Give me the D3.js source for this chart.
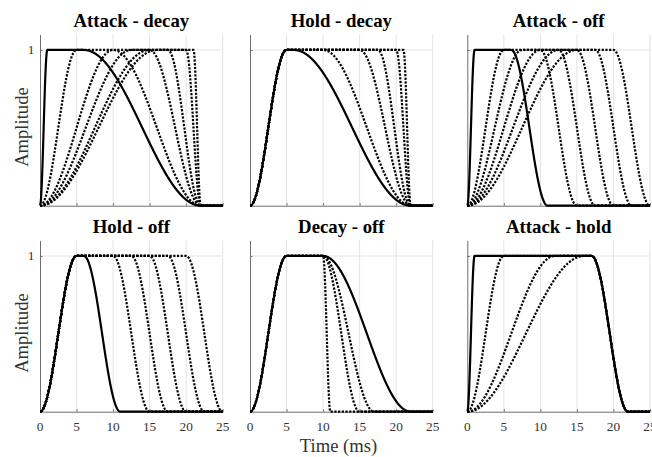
<!DOCTYPE html>
<html>
<head>
<meta charset="utf-8">
<script src="https://cdn.jsdelivr.net/npm/d3@7"></script>
<style>
  html, body { margin: 0; padding: 0; background: #fff; }
  svg { display: block; }
</style>
</head>
<body>
<svg id="chart" width="652" height="457"></svg>
<script>
// ---- Data ----
const titles = ["Attack - decay", "Hold - decay", "Attack - off", "Hold - off", "Decay - off", "Attack - hold"];
const xTicks = [0, 5, 10, 15, 20, 25];
const xTickLabels = ["0", "5", "10", "15", "20", "25"];
const yTicks = [1];
const yTickLabels = ["1"];
const xLabel = "Time (ms)";
const yLabel = "Amplitude";

// Envelope segment durations in ms; the first entry of each panel is the solid curve
const attackDecayA = [1, 5, 10, 12.5, 15, 16];
const attackDecayH = [5, 5, 5, 5, 5, 5];
const attackDecayD = [16, 12, 7, 4.5, 2, 1];

const holdDecayA = [5, 5, 5, 5, 5, 5];
const holdDecayH = [1, 5, 10, 12.5, 15, 16];
const holdDecayD = [16, 12, 7, 4.5, 2, 1];

const attackOffA = [1, 5, 7.5, 10, 12.5, 15];
const attackOffH = [5, 5, 5, 5, 5, 5];
const attackOffD = [5, 5, 5, 5, 5, 5];

const holdOffA = [5, 5, 5, 5, 5, 5];
const holdOffH = [1, 5, 7.5, 10, 12.5, 15];
const holdOffD = [5, 5, 5, 5, 5, 5];

const decayOffA = [5, 5, 5, 5];
const decayOffH = [5, 5, 5, 5];
const decayOffD = [12, 1, 5, 7];

const attackHoldA = [1, 5, 12, 16];
const attackHoldH = [16, 12, 5, 1];
const attackHoldD = [5, 5, 5, 5];

const panelParams = [
  [attackDecayA, attackDecayH, attackDecayD],
  [holdDecayA, holdDecayH, holdDecayD],
  [attackOffA, attackOffH, attackOffD],
  [holdOffA, holdOffH, holdOffD],
  [decayOffA, decayOffH, decayOffD],
  [attackHoldA, attackHoldH, attackHoldD]
];

// ---- Layout ----
const FONT = "'Liberation Serif', 'Times New Roman', 'DejaVu Serif', serif";
const svg = d3.select("#chart");
const cols = [[40, 222.7], [250, 432.7], [467.3, 650]];
const rows = [[34.4, 205.7], [240.4, 411.7]];
const axisColor = "#6e6e6e";
const gridColor = "#e3e3e3";
const textColor = "#333333";

// raised-cosine envelope with attack/hold/decay segments
function envelope(t, a, h, d) {
  if (t <= 0) return 0;
  if (t < a) return 0.5 - 0.5 * Math.cos(Math.PI * t / a);
  if (t <= a + h) return 1;
  if (t < a + h + d) return 0.5 + 0.5 * Math.cos(Math.PI * (t - a - h) / d);
  return 0;
}
const tSamples = d3.range(0, 25.0001, 0.02);

titles.forEach((title, i) => {
  const c = cols[i % 3], r = rows[Math.floor(i / 3)];
  const x = d3.scaleLinear().domain([0, 25]).range([c[0], c[1]]);
  const y = d3.scaleLinear().domain([0, 1.1]).range([r[1], r[0]]);
  const g = svg.append("g");

  // grid
  g.selectAll(".gx").data(xTicks.filter(v => v > 0)).enter().append("line")
    .attr("x1", d => x(d)).attr("x2", d => x(d))
    .attr("y1", y(0)).attr("y2", y(1.1))
    .attr("stroke", gridColor).attr("stroke-width", 1);
  g.selectAll(".gy").data(yTicks).enter().append("line")
    .attr("x1", x(0)).attr("x2", x(25))
    .attr("y1", d => y(d)).attr("y2", d => y(d))
    .attr("stroke", gridColor).attr("stroke-width", 1);

  // axes (ticks inward)
  const xAxis = d3.axisTop(x).tickValues(xTicks).tickSize(2.5).tickSizeOuter(0)
    .tickFormat(() => "");
  const gx = g.append("g").attr("transform", `translate(0,${y(0)})`).call(xAxis);
  gx.select(".domain").attr("stroke", axisColor);
  gx.selectAll(".tick line").attr("stroke", axisColor);

  const yAxis = d3.axisRight(y).tickValues(yTicks).tickSize(2.5).tickSizeOuter(0)
    .tickFormat(() => "");
  const gy = g.append("g").attr("transform", `translate(${x(0)},0)`).call(yAxis);
  gy.select(".domain").attr("stroke", axisColor);
  gy.selectAll(".tick line").attr("stroke", axisColor);

  // tick labels
  if (i >= 3) {
    g.selectAll(".xl").data(xTicks).enter().append("text")
      .attr("x", d => x(d)).attr("y", r[1] + 19)
      .attr("text-anchor", "middle").attr("font-family", FONT)
      .attr("font-size", "13.3px").attr("fill", textColor)
      .text((d, k) => xTickLabels[k]);
  }
  if (i % 3 === 0) {
    g.selectAll(".yl").data(yTicks).enter().append("text")
      .attr("x", x(0) - 5.5).attr("y", d => y(d) + 4.5)
      .attr("text-anchor", "end").attr("font-family", FONT)
      .attr("font-size", "13.3px").attr("fill", textColor)
      .text((d, k) => yTickLabels[k]);
    g.append("text")
      .attr("transform", `translate(28,${(r[0] + r[1]) / 2 + 7}) rotate(-90)`)
      .attr("text-anchor", "middle").attr("font-family", FONT)
      .attr("font-size", "18.6px").attr("fill", textColor)
      .text(yLabel);
  }

  // title
  g.append("text")
    .attr("x", (c[0] + c[1]) / 2).attr("y", r[0] - 7.5)
    .attr("text-anchor", "middle").attr("font-family", FONT)
    .attr("font-size", "18.8px").attr("font-weight", "bold")
    .attr("fill", "#000").text(title);

  // curves
  const [A, H, D] = panelParams[i];
  const curves = A.map((a, k) => ({ k, pts: tSamples.map(t => [t, envelope(t, a, H[k], D[k])]) }));
  const line = d3.line().x(d => x(d[0])).y(d => y(d[1]));
  const ordered = curves.slice(1).concat([curves[0]]);
  g.selectAll(".curve").data(ordered).enter().append("path")
    .attr("d", d => line(d.pts))
    .attr("fill", "none").attr("stroke", "#000")
    .attr("stroke-width", d => d.k === 0 ? 2.2 : 2.2)
    .attr("stroke-dasharray", d => d.k === 0 ? null : "2.2,1.5")
    .attr("stroke-linejoin", "round");
});

// x label
svg.append("text")
  .attr("x", 338.5).attr("y", 452)
  .attr("text-anchor", "middle").attr("font-family", FONT)
  .attr("font-size", "18.6px").attr("fill", textColor)
  .text(xLabel);
</script>
</body>
</html>
